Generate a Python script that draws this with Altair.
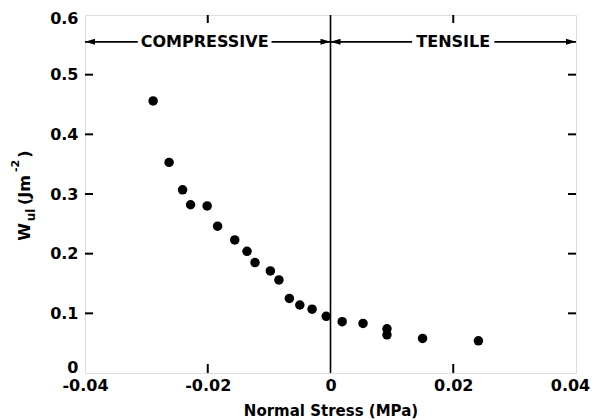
import altair as alt
import pandas as pd

# data
stress = [-0.0289, -0.0263, -0.0241, -0.0228, -0.0201, -0.0184, -0.0156, -0.0136,
          -0.0123, -0.0098, -0.0084, -0.0067, -0.0050, -0.0030, -0.0007, 0.0019,
          0.0053, 0.0092, 0.0092, 0.0150, 0.0241]
wul = [0.456, 0.353, 0.307, 0.282, 0.280, 0.246, 0.223, 0.204, 0.185, 0.171,
       0.156, 0.125, 0.114, 0.107, 0.095, 0.086, 0.083, 0.074, 0.064, 0.058, 0.054]

x_labels = [-0.04, -0.02, 0, 0.02, 0.04]
y_labels = [0, 0.1, 0.2, 0.3, 0.4, 0.5, 0.6]
x_inner_ticks = [-0.02, 0.02]
y_inner_ticks = [0.1, 0.2, 0.3, 0.4, 0.5]

region_names = ["COMPRESSIVE", "TENSILE"]
region_centers = [-0.0205, 0.0200]
arrow_level = 0.555
seg_start = [-0.04, -0.0096, 0.0, 0.0267]
seg_end = [-0.0314, 0.0, 0.0133, 0.04]
head_x = [-0.04, 0.0, 0.0, 0.04]
head_dir = ["left", "right", "left", "right"]

y_title_pieces = ["W", "ul", "(Jm", "-2", ")"]
x_title = "Normal Stress (MPa)"

W, H = 491, 358
FONT = "DejaVu Sans"

xscale = alt.Scale(domain=[-0.04, 0.04], nice=False, zero=False)
yscale = alt.Scale(domain=[0, 0.6], nice=False)
xaxis = alt.Axis(values=x_labels, title=x_title, ticks=False, domain=False,
                 grid=False, labelPadding=4, labelFontSize=16, labelFont=FONT,
                 labelFontWeight="bold", labelColor="black", titleFontSize=15,
                 titleFont=FONT, titleFontWeight="bold", titleColor="black",
                 titlePadding=10, labelFlush=False,
                 labelExpr="replace(format(datum.value, '~g'), '\u2212', '-')",
                 labelOffset={"condition": {"test": "datum.value > 0.03", "value": -6}, "value": 0})
yaxis = alt.Axis(values=y_labels, title=None, ticks=False, domain=False,
                 grid=False, labelPadding=7, labelFontSize=16, labelFont=FONT,
                 labelFontWeight="bold", labelColor="black", labelFlush=False,
                 labelExpr="format(datum.value, '~g')",
                 labelOffset={"condition": [{"test": "datum.value == 0", "value": -6},
                                            {"test": "datum.value > 0.55", "value": 3}],
                              "value": 0})


def X(f="x"):
    return alt.X(f"{f}:Q", scale=xscale, axis=xaxis)


def Y(f="y"):
    return alt.Y(f"{f}:Q", scale=yscale, axis=yaxis)


pts_df = pd.DataFrame({"x": stress, "y": wul})
points = alt.Chart(pts_df).mark_circle(size=90, color="black", opacity=1).encode(x=X(), y=Y())

zero_line = alt.Chart(pd.DataFrame({"x": [0.0]})).mark_rule(color="black", strokeWidth=1.6).encode(
    x=X(), y=alt.value(0), y2=alt.value(H))

yt = pd.DataFrame({"y": y_inner_ticks})
yt_left = alt.Chart(yt).mark_rule(color="black", strokeWidth=2).encode(
    y=Y(), x=alt.value(0), x2=alt.value(8))
yt_right = alt.Chart(yt).mark_rule(color="black", strokeWidth=2).encode(
    y=Y(), x=alt.value(W - 8), x2=alt.value(W))
xt = pd.DataFrame({"x": x_inner_ticks})
xt_bottom = alt.Chart(xt).mark_rule(color="black", strokeWidth=2).encode(
    x=X(), y=alt.value(H - 9), y2=alt.value(H))
xt_top = alt.Chart(xt).mark_rule(color="black", strokeWidth=2).encode(
    x=X(), y=alt.value(0), y2=alt.value(8))

seg_df = pd.DataFrame({"x": seg_start, "x2": seg_end, "y": [arrow_level] * len(seg_start)})
segments = alt.Chart(seg_df).mark_rule(color="black", strokeWidth=1.6).encode(
    x=X(), x2="x2:Q", y=Y())

head_df = pd.DataFrame({"x": head_x, "dir": head_dir, "y": [arrow_level] * len(head_x)})
left_path = "M0,0 L2,-0.6 L2,0.6 Z"
right_path = "M0,0 L-2,-0.6 L-2,0.6 Z"
heads_left = alt.Chart(head_df).transform_filter(alt.datum.dir == "left").mark_point(
    shape=left_path, size=100, filled=True, color="black", opacity=1).encode(x=X(), y=Y())
heads_right = alt.Chart(head_df).transform_filter(alt.datum.dir == "right").mark_point(
    shape=right_path, size=100, filled=True, color="black", opacity=1).encode(x=X(), y=Y())

lab_df = pd.DataFrame({"x": region_centers, "y": [arrow_level] * 2, "t": region_names})
labels = alt.Chart(lab_df).mark_text(font=FONT, fontSize=16, fontWeight="bold", color="black",
                                     align="center", baseline="middle").encode(
    x=X(), y=Y(), text="t:N")

# rotated y-axis title built from pieces (W, subscript ul, (Jm, superscript -2, ))
piece_style = [(-60, 217, 16), (-54, 200, 12), (-60, 175, 16), (-69, 151, 11), (-60, 139, 16)]
title_layers = []
for piece, (px, py, fs) in zip(y_title_pieces, piece_style):
    title_layers.append(
        alt.Chart(pd.DataFrame({"t": [piece]})).mark_text(
            font=FONT, fontSize=fs, fontWeight="bold", color="black", angle=270,
            align="center", baseline="middle").encode(
            x=alt.value(px), y=alt.value(py), text="t:N")
    )

chart = alt.layer(
    zero_line, yt_left, yt_right, xt_bottom, xt_top, segments, heads_left, heads_right,
    labels, points, *title_layers
).properties(
    width=W, height=H,
    autosize=alt.AutoSizeParams(type="none"),
    padding={"left": 77, "top": 7, "right": 14, "bottom": 47},
).configure_view(stroke="black", strokeWidth=2).configure(background="white")

chart.save("out.html", embed_options={"renderer": "svg", "actions": False})
